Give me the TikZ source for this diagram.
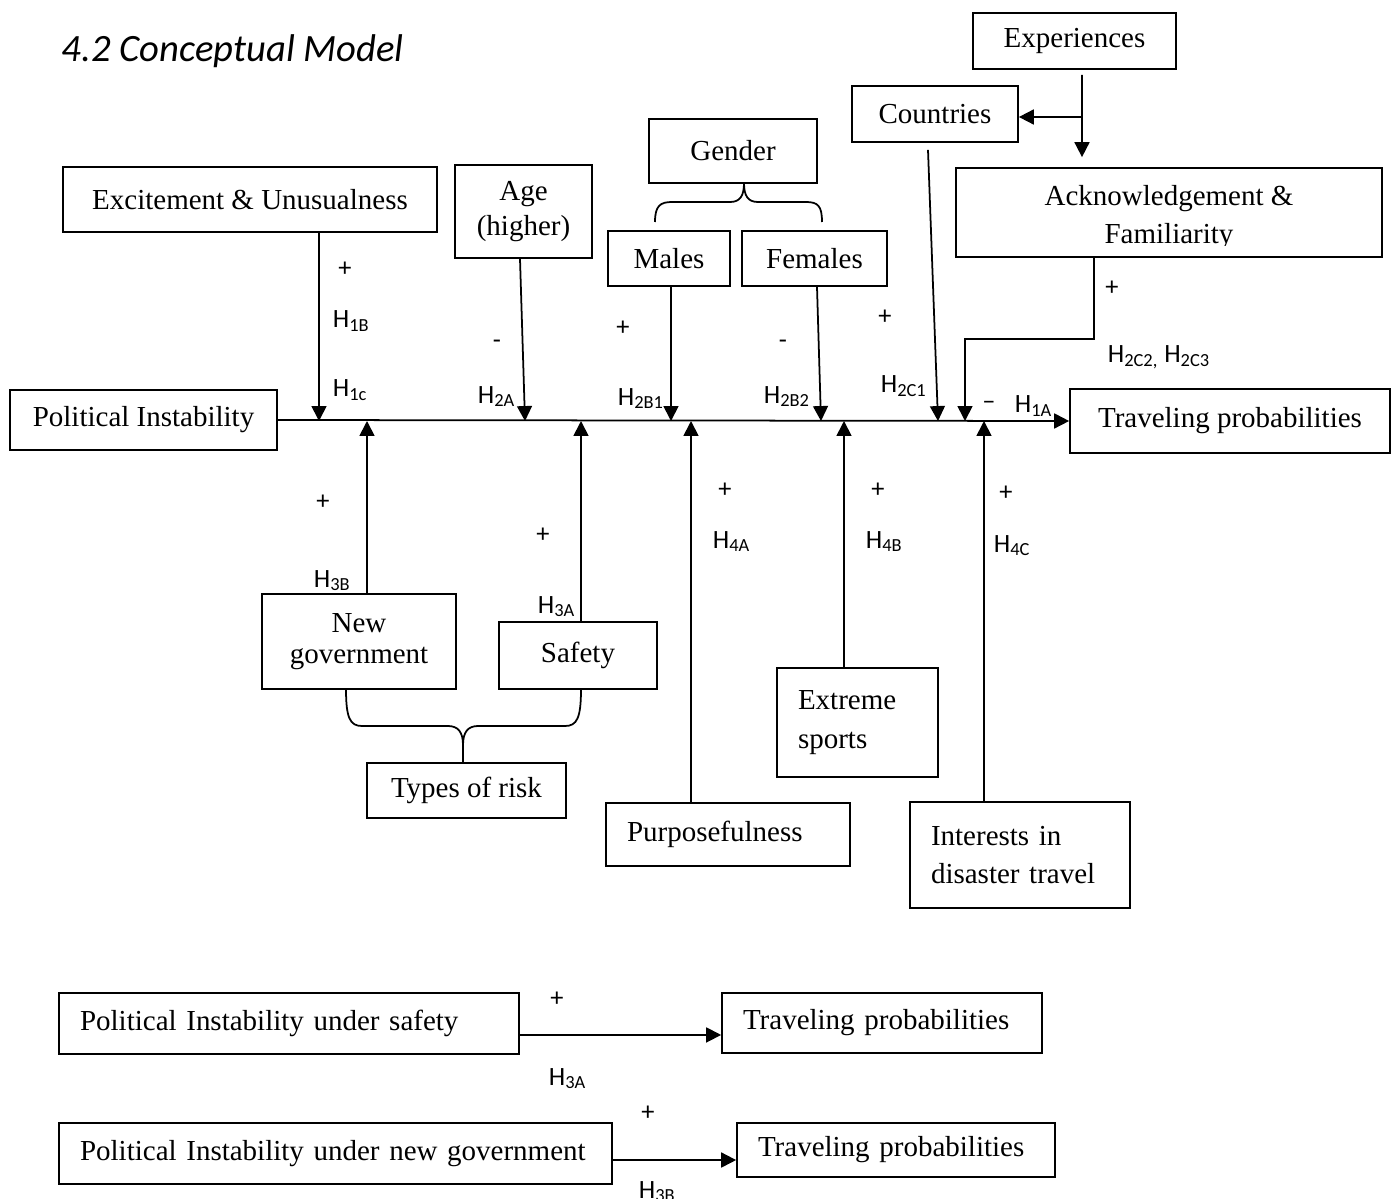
\documentclass[tikz,border=0pt]{standalone}
\usepackage{fontspec}
\setmainfont{Liberation Serif}
\newfontfamily\carlito{Carlito}
\usetikzlibrary{arrows.meta,calc}

\begin{document}
\begin{tikzpicture}[->,>={Triangle[length=8.5pt,width=8.5pt]},x=0.02cm,y=-0.02cm,
        line width=1pt,
        box/.style={draw,inner sep=0pt,align=center,font=\fontsize{16.5}{21.5}\selectfont},
        lbox/.style={box,align=left,inner xsep=0.42cm},
        lab/.style={inner sep=0pt,font=\carlito\fontsize{15}{17}\selectfont}]

    \useasboundingbox (0,0) rectangle (1396,1199);

    \node[anchor=base west,inner sep=0pt,font=\carlito\itshape\fontsize{22}{26}\selectfont] (title) at (61,62) {4.2 Conceptual Model};

    % upper boxes
    \node[box,minimum width=4.06cm,minimum height=1.12cm] (exp) at (1074.5,41) {Experiences};
    \node[box,minimum width=3.32cm,minimum height=1.12cm] (cty) at (935,114) {Countries};
    \node[box,minimum width=8.52cm,minimum height=1.78cm] (ack) at (1169,212.5) {};
    \begin{scope}
        \clip (956,168) rectangle (1382,246);
        \node[box,draw=none,anchor=north] (acktxt) at (1169,185) {Acknowledgement \&\\Familiarity};
    \end{scope}
    \node[box,minimum width=7.48cm,minimum height=1.3cm] (exc) at (250,199.5) {Excitement \& Unusualness};
    \node[box,minimum width=2.74cm,minimum height=1.86cm,font=\fontsize{16.5}{20}\selectfont] (age) at (523.5,211.5) {Age\\(higher)};
    \node[box,minimum width=3.36cm,minimum height=1.28cm] (gen) at (733,151) {Gender};
    \node[box,minimum width=2.44cm,minimum height=1.1cm] (mal) at (669,258.5) {Males};
    \node[box,minimum width=2.9cm,minimum height=1.1cm] (fem) at (814.5,258.5) {Females};

    \node[box,minimum width=5.34cm,minimum height=1.2cm] (pol) at (143.5,420) {Political Instability};
    \node[box,minimum width=6.4cm,minimum height=1.28cm] (trv) at (1230,421) {Traveling probabilities};

    % lower boxes
    \node[box,minimum width=3.88cm,minimum height=1.9cm,font=\fontsize{16.5}{18}\selectfont] (ngv) at (359,641.5) {New\\government};
    \node[box,minimum width=3.16cm,minimum height=1.34cm] (saf) at (578,655.5) {Safety};
    \node[box,minimum width=3.98cm,minimum height=1.1cm] (typ) at (466.5,790.5) {Types of risk};
    \node[lbox,text width=4.04cm,minimum height=1.26cm] (pur) at (728,834.5) {Purposefulness};
    \node[lbox,text width=2.38cm,minimum height=2.18cm,font=\fontsize{16.5}{22.5}\selectfont] (ext) at (857.5,722.5) {Extreme\\sports};
    \node[lbox,text width=3.56cm,minimum height=2.12cm,font=\fontsize{16.5}{22}\selectfont] (int) at (1020,855) {Interests in\\disaster travel};

    \node[lbox,text width=8.36cm,minimum height=1.22cm] (pis) at (289,1023.5) {Political Instability under safety};
    \node[lbox,text width=5.56cm,minimum height=1.2cm] (tp1) at (882,1023) {Traveling probabilities};
    \node[lbox,text width=10.22cm,minimum height=1.22cm] (png) at (335.5,1153.5) {Political Instability under new government};
    \node[lbox,text width=5.52cm,minimum height=1.08cm] (tp2) at (896,1150) {Traveling probabilities};

    % points on the main line
    \coordinate (d1) at (319,421);
    \coordinate (d2) at (525,421);
    \coordinate (d3) at (671,421);
    \coordinate (d4) at (821,421);
    \coordinate (d5) at (938,421);
    \coordinate (d6) at (965,421);
    \coordinate (u1) at (367,421);
    \coordinate (u2) at (581,421);
    \coordinate (u3) at (691,421);
    \coordinate (u4) at (844,421);
    \coordinate (u5) at (984,421);
    \coordinate (k) at (965,339);
    \coordinate (e1) at (1082,117);

    \path (pol.east) edge (trv.west)
        (exc.south -| d1) edge (d1)
        ($(age.south)+(-3.5,0)$) edge (d2)
        (mal.south -| d3) edge (d3)
        ($(fem.south)+(2.5,0)$) edge (d4)
        ($(cty.south)+(-7,7)$) edge (d5)
        (ngv.north -| u1) edge (u1)
        (saf.north -| u2) edge (u2)
        (pur.north -| u3) edge (u3)
        (ext.north -| u4) edge (u4)
        (int.north -| u5) edge (u5);

    \draw ($(ack.south)+(-75,0)$) |- (k) -- (d6);
    \draw ($(exp.south)+(7.5,5)$) -- ($(ack.north)+(-87,-10)$);
    \draw (e1) -- (cty.east |- e1);

    \draw ([yshift=-6.5pt]pis.east) -- ([yshift=-6.8pt]tp1.west);
    \draw ([yshift=-3.7pt]png.east) -- ([yshift=-5.7pt]tp2.west);

    % braces
    \draw[-] (655,222) .. controls (655,206) and (660,202) .. (672,202) -- (730,202)
        .. controls (740,202) and (744,196) .. (744,183)
        .. controls (744,196) and (748,202) .. (758,202) -- (806,202)
        .. controls (818,202) and (822,206) .. (822,222);
    \draw[-] (346,689) .. controls (346,718) and (350,726) .. (362,726) -- (448,726)
        .. controls (458,726) and (463,732) .. (463,745) -- (463,763);
    \draw[-] (581,689) .. controls (581,718) and (577,726) .. (565,726) -- (478,726)
        .. controls (468,726) and (463,732) .. (463,745);

    % signs and hypotheses
    \node[lab] (p1b) at (345,269) {+};
    \node[lab,anchor=base west] (h1b) at (332,328) {H\textsubscript{1B}};
    \node[lab,anchor=base west] (h1c) at (332,397) {H\textsubscript{1c}};
    \node[lab] (m2a) at (497,344) {-};
    \node[lab,anchor=base west] (h2a) at (477,403) {H\textsubscript{2A}};
    \node[lab] (p2b1) at (623,328) {+};
    \node[lab,anchor=base west] (h2b1) at (617,405) {H\textsubscript{2B1}};
    \node[lab] (m2b2) at (783,344) {-};
    \node[lab,anchor=base west] (h2b2) at (763,403) {H\textsubscript{2B2}};
    \node[lab] (p2c1) at (885,317) {+};
    \node[lab,anchor=base west] (h2c1) at (880,393) {H\textsubscript{2C1}};
    \node[lab] (p2c2) at (1112,288) {+};
    \node[lab,anchor=base west] (h2c2) at (1107,363) {H\textsubscript{2C2,} H\textsubscript{2C3}};
    \node[lab] (m1a) at (989,405) {\textendash};
    \node[lab,anchor=base west] (h1a) at (1014,413) {H\textsubscript{1A}};

    \node[lab] (p3b) at (323,502) {+};
    \node[lab,anchor=base west] (h3b) at (313,587) {H\textsubscript{3B}};
    \node[lab] (p3a) at (543,535) {+};
    \node[lab,anchor=base west] (h3a) at (537,613) {H\textsubscript{3A}};
    \node[lab] (p4a) at (725,490) {+};
    \node[lab,anchor=base west] (h4a) at (712,548) {H\textsubscript{4A}};
    \node[lab] (p4b) at (878,490) {+};
    \node[lab,anchor=base west] (h4b) at (865,548) {H\textsubscript{4B}};
    \node[lab] (p4c) at (1006,493) {+};
    \node[lab,anchor=base west] (h4c) at (993,552) {H\textsubscript{4C}};

    \node[lab] (p3a2) at (557,999) {+};
    \node[lab,anchor=base west] (h3a2) at (548,1085) {H\textsubscript{3A}};
    \node[lab] (p3b2) at (648,1113) {+};
    \node[lab,anchor=base west] (h3b2) at (638,1198) {H\textsubscript{3B}};

\end{tikzpicture}
\end{document}
